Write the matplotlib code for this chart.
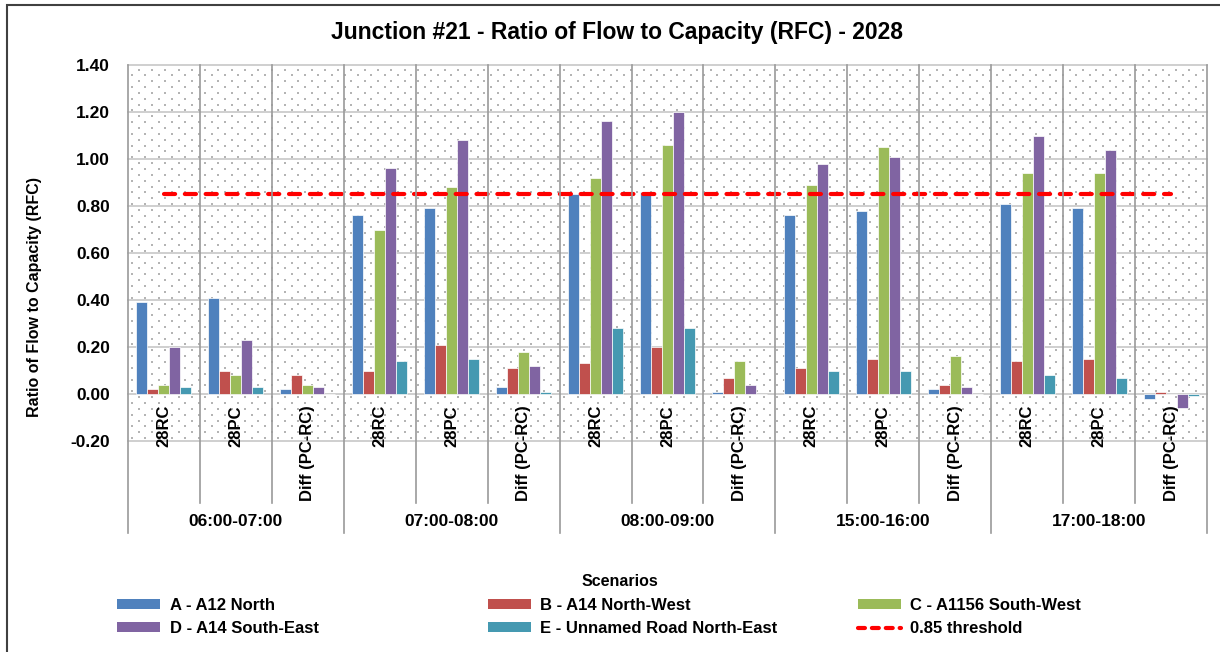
import numpy as np
import matplotlib
matplotlib.use("Agg")
import matplotlib.pyplot as plt
import matplotlib.transforms as mtransforms
from matplotlib.lines import Line2D
from matplotlib.patches import Patch, Rectangle

plt.rcParams['font.family'] = ['Liberation Sans', 'DejaVu Sans']
plt.rcParams['font.weight'] = 'bold'
plt.rcParams['lines.scale_dashes'] = False

# ---- data -------------------------------------------------------------
periods = ["06:00-07:00", "07:00-08:00", "08:00-09:00", "15:00-16:00", "17:00-18:00"]
scenarios = ["28RC", "28PC", "Diff (PC-RC)"]

arm_labels = ["A - A12 North", "B - A14 North-West", "C - A1156 South-West",
              "D - A14 South-East", "E - Unnamed Road North-East"]
arm_colors = ["#4F81BD", "#C0504D", "#9BBB59", "#8064A2", "#4599B1"]

rfc_a = [0.39, 0.41, 0.02, 0.76, 0.79, 0.03, 0.85, 0.86, 0.01, 0.76, 0.78, 0.02, 0.81, 0.79, -0.02]
rfc_b = [0.02, 0.10, 0.08, 0.10, 0.21, 0.11, 0.13, 0.20, 0.07, 0.11, 0.15, 0.04, 0.14, 0.15, 0.01]
rfc_c = [0.04, 0.08, 0.04, 0.70, 0.88, 0.18, 0.92, 1.06, 0.14, 0.89, 1.05, 0.16, 0.94, 0.94, 0.00]
rfc_d = [0.20, 0.23, 0.03, 0.96, 1.08, 0.12, 1.16, 1.20, 0.04, 0.98, 1.01, 0.03, 1.10, 1.04, -0.06]
rfc_e = [0.03, 0.03, 0.00, 0.14, 0.15, 0.01, 0.28, 0.28, 0.00, 0.10, 0.10, 0.00, 0.08, 0.07, -0.01]
threshold = 0.85
threshold_label = "0.85 threshold"

y_ticks = [-0.20, 0.00, 0.20, 0.40, 0.60, 0.80, 1.00, 1.20, 1.40]

series = [rfc_a, rfc_b, rfc_c, rfc_d, rfc_e]
n_cat = len(periods) * len(scenarios)
x = np.arange(n_cat)

# ---- figure / axes -----------------------------------------------------
FW, FH = 1220, 652
fig = plt.figure(figsize=(FW / 100, FH / 100), dpi=100)
L, R, T, B = 128, 1207, 65, 441
ax = fig.add_axes([L / FW, 1 - B / FH, (R - L) / FW, (B - T) / FH])
ax.set_xlim(-0.5, n_cat - 0.5)
ax.set_ylim(y_ticks[0], y_ticks[-1])
for s in ax.spines.values():
    s.set_visible(False)

# dotted background fill of the plot area
W_ax, H_ax = R - L, B - T
dx, dy = 13.3, 5.85
px, py = [], []
for k, yy in enumerate(np.arange(dy / 2, H_ax, dy)):
    off = 4 if k % 2 == 0 else 4 + dx / 2
    xx = np.arange(off, W_ax, dx)
    px.extend(xx / W_ax)
    py.extend([yy / H_ax] * len(xx))
ax.scatter(px, py, s=0.8, marker='s', color='#b4b4b4', linewidths=0,
           transform=ax.transAxes, zorder=0)

# gridlines
ax.set_yticks(y_ticks)
ax.set_yticklabels([f"{v:.2f}" for v in y_ticks], fontsize=12.5, fontweight='bold')
ax.tick_params(axis='y', length=0, pad=13)
ax.set_xticks([])
ax.yaxis.grid(True, color='#cbcbcb', linewidth=1.3, zorder=1)
ax.set_axisbelow(True)
for gl in ax.get_ygridlines():
    gl.set_clip_on(False)

# bars
bw = 0.153
for k, (vals, col, lab) in enumerate(zip(series, arm_colors, arm_labels)):
    ax.bar(x + (k - 2) * bw, vals, width=bw, color=col, edgecolor='white',
           linewidth=0.5, label=lab, zorder=3)

# threshold line
ax.plot(x, np.full(n_cat, threshold), color='#FF0000', linewidth=3.0,
        dashes=(8.0, 7.0), dash_capstyle='round', zorder=4, label=threshold_label)

# separators between categories / groups
bt = mtransforms.blended_transform_factory(ax.transData, fig.transFigure)
y_top = 1 - T / FH
for b in np.arange(-0.5, n_cat, 1.0):
    is_group = int(round(b + 0.5)) % len(scenarios) == 0
    y_end = 1 - (533 if is_group else 503) / FH
    fig.add_artist(Line2D([b, b], [y_top, y_end], transform=bt,
                          color='#9a9a9a', linewidth=1.2, clip_on=False, zorder=2))

# category labels
for i in range(n_cat):
    ax.annotate(scenarios[i % len(scenarios)], xy=(i, 0), xytext=(0, -8),
                textcoords='offset points', rotation=90, ha='center', va='top',
                fontsize=12, fontweight='bold', annotation_clip=False)

# period labels
for g, p in enumerate(periods):
    cx = g * len(scenarios) + (len(scenarios) - 1) / 2
    fig.text(cx, 1 - 522 / FH, p, transform=bt, ha='center', va='center',
             fontsize=12.5, fontweight='bold')

# titles
fig.text(617 / FW, 1 - 33 / FH, "Junction #21 - Ratio of Flow to Capacity (RFC) - 2028",
         ha='center', va='center', fontsize=16.5, fontweight='bold')
fig.text(35 / FW, 1 - 297 / FH, "Ratio of Flow to Capacity (RFC)", rotation=90,
         ha='center', va='center', fontsize=11.5, fontweight='bold')
fig.text(620 / FW, 1 - 582 / FH, "Scenarios", ha='center', va='center',
         fontsize=11.5, fontweight='bold')

# legend, three columns placed side by side
handles = [Patch(facecolor=c, edgecolor='none') for c in arm_colors]
handles.append(Line2D([], [], color='#FF0000', linewidth=3.0, dashes=(5.0, 5.0),
                      dash_capstyle='round'))
labels = arm_labels + [threshold_label]
columns = [(0, 3), (1, 4), (2, 5)]
col_x = [117, 488, 858]
for (i1, i2), cx in zip(columns, col_x):
    fig.legend([handles[i1], handles[i2]], [labels[i1], labels[i2]],
               loc='upper left', bbox_to_anchor=(cx / FW, 1 - 598 / FH),
               bbox_transform=fig.transFigure, frameon=False, borderpad=0,
               borderaxespad=0, handlelength=2.6, handleheight=0.55,
               handletextpad=0.55, labelspacing=0.48,
               prop={'size': 12, 'weight': 'bold'})

# outer frame
fig.add_artist(Rectangle((7 / FW, -0.1), 1.2, 1 - 5 / FH + 0.1, transform=fig.transFigure,
                         fill=False, edgecolor='#404040', linewidth=1.5, clip_on=False))

fig.savefig("out.png", dpi=100)
